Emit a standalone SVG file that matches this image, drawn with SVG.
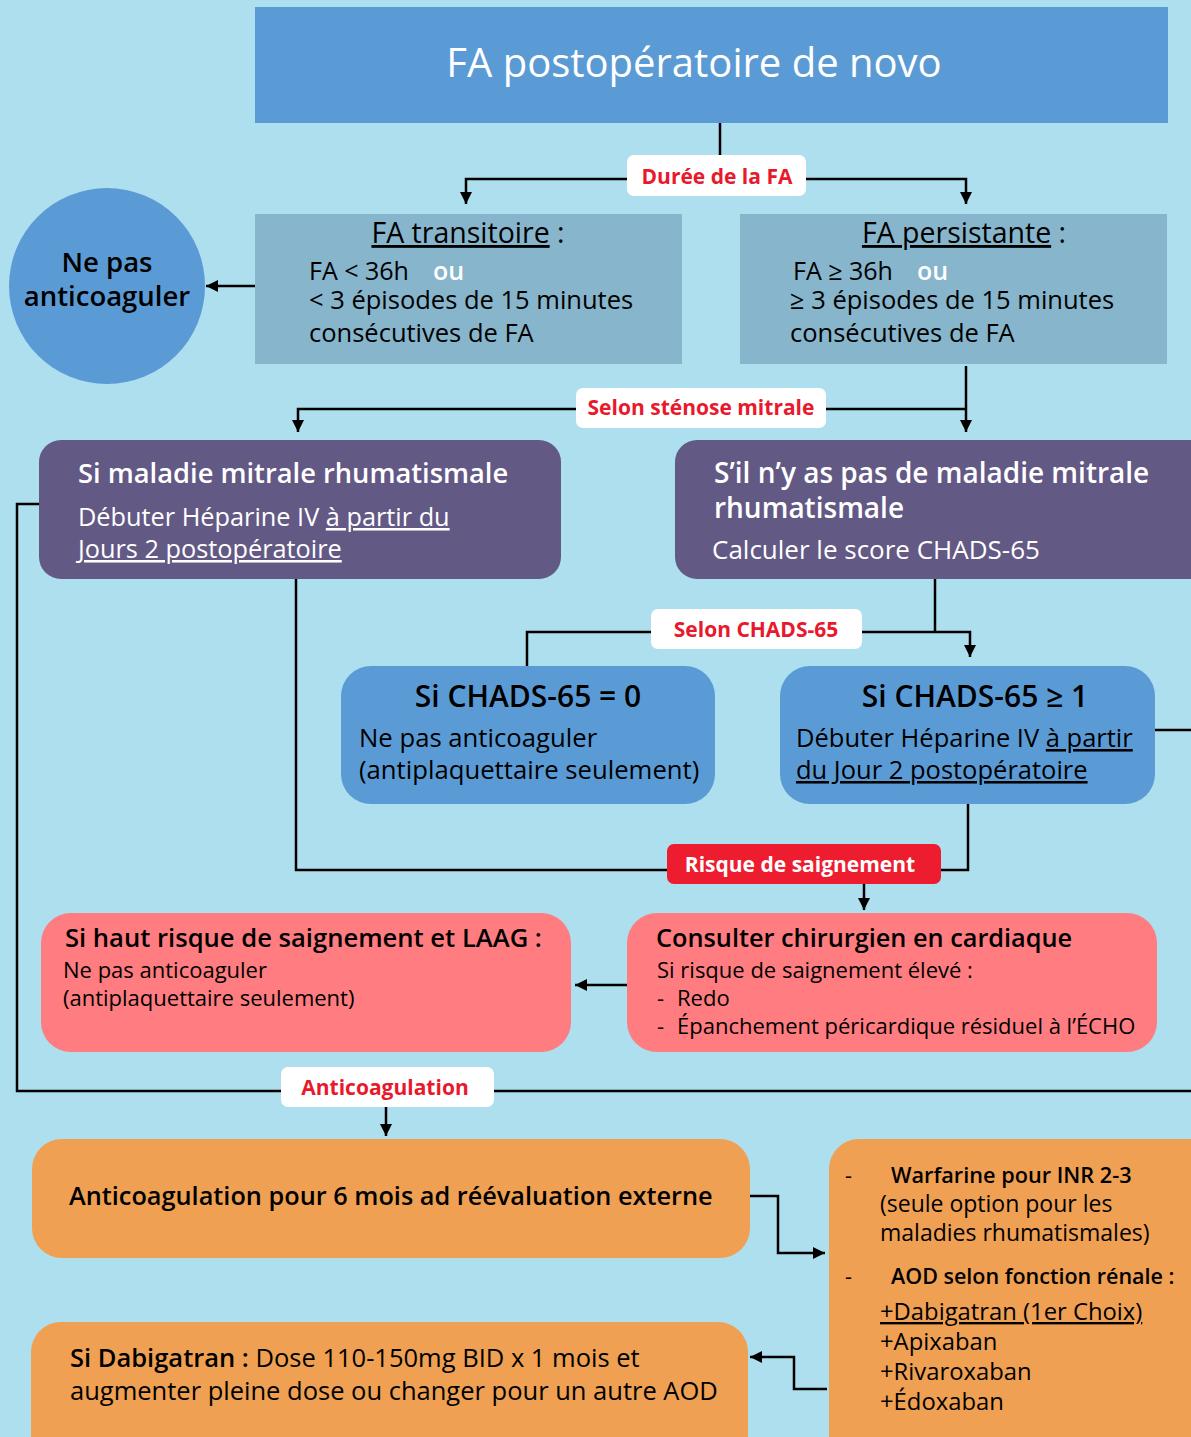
<svg xmlns="http://www.w3.org/2000/svg" width="1191" height="1437" viewBox="0 0 1191 1437">
<defs>
<marker id="ah" viewBox="0 0 10 10" refX="10" refY="5" markerWidth="12" markerHeight="12" markerUnits="userSpaceOnUse" orient="auto">
<path d="M0,0 L10,5 L0,10 z" fill="#000"/>
</marker>
<style>
text{font-family:"Open Sans","Noto Sans","Liberation Sans",sans-serif;}
.c{fill:none;stroke:#000;stroke-width:2.5;}
.ca{fill:none;stroke:#000;stroke-width:2.5;marker-end:url(#ah);}
.lbl{fill:#fff;}
.lt{fill:#E8192C;font-weight:700;font-size:21px;text-anchor:middle;}
.b{font-weight:600;}
.u{text-decoration:underline;}
.w{fill:#fff;}
.k{fill:#000;}
</style>
</defs>
<rect width="1191" height="1437" fill="#AEDFEF"/>

<g id="connectors">
<path class="c" d="M720,123 V158"/>
<path class="ca" d="M627,179 H466 V204"/>
<path class="ca" d="M806,179 H966 V204"/>
<path class="ca" d="M255,286 H206"/>
<path class="ca" d="M966,366 V432"/>
<path class="ca" d="M576,409 H298 V432"/>
<path class="c" d="M826,409 H966"/>
<path class="c" d="M935,579 V632"/>
<path class="ca" d="M862,632 H970 V657"/>
<path class="c" d="M651,632 H527 V666"/>
<path class="c" d="M1155,730 H1191"/>
<path class="c" d="M39,504 H17 V1091 H281"/>
<path class="c" d="M494,1091 H1191"/>
<path class="ca" d="M386,1107 V1136"/>
<path class="c" d="M296,579 V870 H667"/>
<path class="c" d="M941,870 H968 V804"/>
<path class="ca" d="M864,884 V910"/>
<path class="ca" d="M627,985 H575"/>
<path class="ca" d="M750,1196 H778 V1253 H825"/>
<path class="ca" d="M827,1389 H794 V1357 H750"/>
</g>

<g id="lbl-duree">
<rect class="lbl" x="627" y="155" width="179" height="41" rx="7"/>
<text class="lt" x="717" y="184">Durée de la FA</text>
</g>
<g id="lbl-stenose">
<rect class="lbl" x="576" y="388" width="250" height="40" rx="7"/>
<text class="lt" x="701" y="415">Selon sténose mitrale</text>
</g>
<g id="lbl-chads">
<rect class="lbl" x="651" y="609" width="211" height="40" rx="7"/>
<text class="lt" x="756" y="637">Selon CHADS-65</text>
</g>
<g id="lbl-risque">
<rect x="667" y="844" width="274" height="40" rx="7" fill="#ED1C2E"/>
<text class="lt" x="800" y="872" style="fill:#fff">Risque de saignement</text>
</g>
<g id="lbl-anticoag">
<rect class="lbl" x="281" y="1067" width="213" height="40" rx="7"/>
<text class="lt" x="385" y="1095">Anticoagulation</text>
</g>

<g id="n-title">
<rect x="255" y="7" width="913" height="116" fill="#5B9BD5"/>
<text x="694" y="77" font-size="40" text-anchor="middle" class="w">FA postopératoire de novo</text>
</g>

<g id="n-transitoire">
<rect x="255" y="214" width="427" height="150" fill="#86B5CC"/>
<text x="468" y="243" font-size="28.5" text-anchor="middle" class="k"><tspan class="u">FA transitoire</tspan> :</text>
<text x="309" y="280" font-size="25" class="k">FA &lt; 36h</text>
<text x="433" y="280" font-size="25" class="b w">ou</text>
<text x="309" y="309" font-size="25.5" class="k">&lt; 3 épisodes de 15 minutes</text>
<text x="309" y="342" font-size="25.5" class="k">consécutives de FA</text>
</g>

<g id="n-persistante">
<rect x="740" y="214" width="427" height="150" fill="#86B5CC"/>
<text x="964" y="243" font-size="28.5" text-anchor="middle" class="k"><tspan class="u">FA persistante</tspan> :</text>
<text x="793" y="280" font-size="25" class="k">FA ≥ 36h</text>
<text x="917" y="280" font-size="25" class="b w">ou</text>
<text x="790" y="309" font-size="25.5" class="k">≥ 3 épisodes de 15 minutes</text>
<text x="790" y="342" font-size="25.5" class="k">consécutives de FA</text>
</g>

<g id="n-nepas">
<ellipse cx="107" cy="286" rx="98" ry="98" fill="#5B9BD5"/>
<text x="107" y="272" font-size="27.5" text-anchor="middle" class="b k">Ne pas</text>
<text x="107" y="306" font-size="27.5" text-anchor="middle" class="b k">anticoaguler</text>
</g>

<g id="n-mitrale">
<rect x="39" y="440" width="522" height="139" rx="22" fill="#635985"/>
<text x="78" y="483" font-size="27.3" class="b w">Si maladie mitrale rhumatismale</text>
<text x="78" y="526" font-size="25.3" class="w">Débuter Héparine IV <tspan class="u">à partir du</tspan></text>
<text x="78" y="558" font-size="25.3" class="w u">Jours 2 postopératoire</text>
</g>

<g id="n-pasmitrale">
<rect x="675" y="440" width="540" height="139" rx="22" fill="#635985"/>
<text x="714" y="483" font-size="28" class="b w">S’il n’y as pas de maladie mitrale</text>
<text x="714" y="518" font-size="28" class="b w">rhumatismale</text>
<text x="712" y="559" font-size="26" class="w">Calculer le score CHADS-65</text>
</g>

<g id="n-chads0">
<rect x="341" y="666" width="374" height="138" rx="30" fill="#5B9BD5"/>
<text x="528" y="707" font-size="30" text-anchor="middle" class="b k">Si CHADS-65 = 0</text>
<text x="359" y="747" font-size="25.7" class="k">Ne pas anticoaguler</text>
<text x="359" y="779" font-size="25.7" class="k">(antiplaquettaire seulement)</text>
</g>

<g id="n-chads1">
<rect x="780" y="666" width="375" height="138" rx="30" fill="#5B9BD5"/>
<text x="975" y="707" font-size="30" text-anchor="middle" class="b k">Si CHADS-65 ≥ 1</text>
<text x="796" y="747" font-size="25.5" class="k">Débuter Héparine IV <tspan class="u">à partir</tspan></text>
<text x="796" y="779" font-size="25.5" class="k u">du Jour 2 postopératoire</text>
</g>

<g id="n-hautrisque">
<rect x="41" y="913" width="530" height="139" rx="30" fill="#FF7C80"/>
<text x="65" y="947" font-size="25.6" class="b k">Si haut risque de saignement et LAAG :</text>
<text x="63" y="978" font-size="22" class="k">Ne pas anticoaguler</text>
<text x="63" y="1006" font-size="22" class="k">(antiplaquettaire seulement)</text>
</g>

<g id="n-consulter">
<rect x="627" y="913" width="530" height="139" rx="30" fill="#FF7C80"/>
<text x="656" y="947" font-size="25.3" class="b k">Consulter chirurgien en cardiaque</text>
<text x="657" y="978" font-size="22" class="k">Si risque de saignement élevé :</text>
<text x="657" y="1006" font-size="22" class="k">-</text>
<text x="677" y="1006" font-size="22" class="k">Redo</text>
<text x="657" y="1034" font-size="22" class="k">-</text>
<text x="677" y="1034" font-size="22" class="k">Épanchement péricardique résiduel à l’ÉCHO</text>
</g>

<g id="n-6mois">
<rect x="32" y="1139" width="718" height="119" rx="30" fill="#EFA052"/>
<text x="69" y="1205" font-size="25.3" class="b k">Anticoagulation pour 6 mois ad réévaluation externe</text>
</g>

<g id="n-dabigatran">
<rect x="31" y="1322" width="717" height="160" rx="30" fill="#EFA052"/>
<text x="70" y="1367" font-size="25.5" class="k"><tspan class="b">Si Dabigatran :</tspan> Dose 110-150mg BID x 1 mois et</text>
<text x="70" y="1400" font-size="25.5" class="k">augmenter pleine dose ou changer pour un autre AOD</text>
</g>

<g id="n-options">
<rect x="829" y="1139" width="400" height="340" rx="30" fill="#EFA052"/>
<text x="845" y="1183" font-size="21.5" class="k">-</text>
<text x="891" y="1183" font-size="21.7" class="b k">Warfarine pour INR 2-3</text>
<text x="880" y="1212" font-size="23" class="k">(seule option pour les</text>
<text x="880" y="1241" font-size="23" class="k">maladies rhumatismales)</text>
<text x="845" y="1284" font-size="21.5" class="k">-</text>
<text x="891" y="1284" font-size="21.5" class="b k">AOD selon fonction rénale :</text>
<text x="880" y="1320" font-size="23.8" class="k u">+Dabigatran (1er Choix)</text>
<text x="880" y="1350" font-size="23.8" class="k">+Apixaban</text>
<text x="880" y="1380" font-size="23.8" class="k">+Rivaroxaban</text>
<text x="880" y="1410" font-size="23.8" class="k">+Édoxaban</text>
</g>
</svg>
